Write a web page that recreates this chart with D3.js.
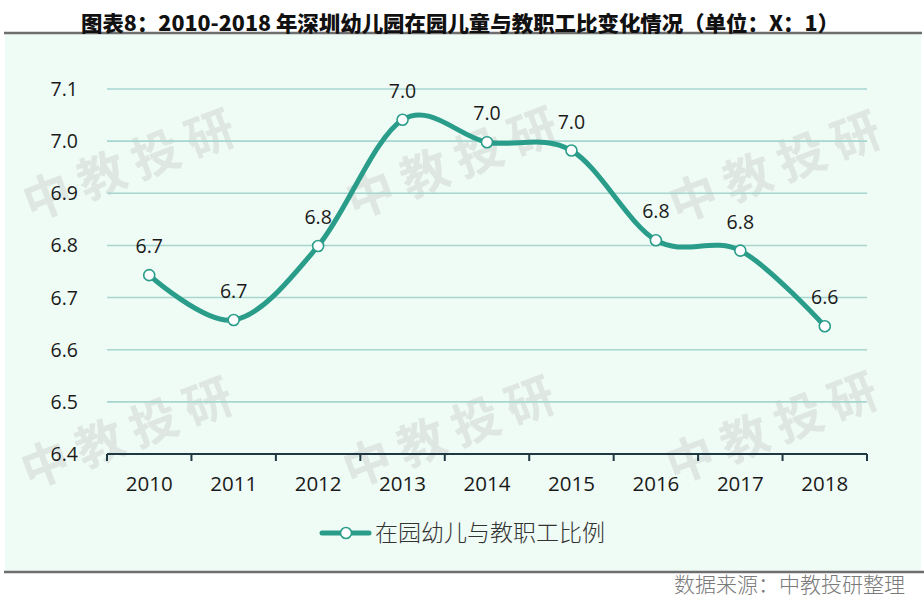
<!DOCTYPE html>
<html><head><meta charset="utf-8">
<script src="https://cdn.jsdelivr.net/npm/d3@7"></script>
<style>body{margin:0;background:#fff;}svg{display:block;}</style>
</head><body>
<script>
const title = "图表8：2010-2018 年深圳幼儿园在园儿童与教职工比变化情况（单位：X：1）";
const categories = ["2010","2011","2012","2013","2014","2015","2016","2017","2018"];
const ratioValues = [6.743, 6.657, 6.799, 7.041, 6.998, 6.982, 6.810, 6.790, 6.645];
const yTicks = [6.4, 6.5, 6.6, 6.7, 6.8, 6.9, 7.0, 7.1];
const seriesName = "在园幼儿与教职工比例";
const source = "数据来源：中教投研整理";
const watermark = "中教投研";

const W = 924, H = 615;
const svg = d3.select("body").append("svg").attr("width", W).attr("height", H);
const FONT = "'Noto Sans CJK SC','Open Sans','DejaVu Sans',sans-serif";
const NUMFONT = "'Open Sans','Noto Sans',sans-serif";
const teal = "#2a9d8a";

// panel
svg.append("rect").attr("x", 5).attr("y", 33).attr("width", 916).attr("height", 539).attr("fill", "#effbf5");
svg.append("line").attr("x1", 4).attr("x2", 922).attr("y1", 33).attr("y2", 33).attr("stroke", "#6e6e6e").attr("stroke-width", 2.5);
svg.append("line").attr("x1", 4).attr("x2", 924).attr("y1", 572).attr("y2", 572).attr("stroke", "#6e6e6e").attr("stroke-width", 2.5);

// title
svg.append("text").attr("x", 460).attr("y", 31).attr("text-anchor", "middle")
  .attr("font-family", FONT).attr("font-weight", 900).attr("font-size", 21)
  .attr("fill", "#111").attr("textLength", 758).attr("lengthAdjust", "spacingAndGlyphs").text(title);

const x = d3.scaleBand().domain(categories).range([107, 867]);
const y = d3.scaleLinear().domain([6.4, 7.1]).range([454, 89]);

// watermarks
const wmCenters = [[132,160],[455,158],[778,162],[130,428],[452,427],[775,423]];
wmCenters.forEach(c => {
  svg.append("text").attr("transform", `translate(${c[0]},${c[1]}) rotate(-21)`)
    .attr("text-anchor", "middle").attr("dominant-baseline", "central")
    .attr("font-family", "'Noto Sans CJK SC',sans-serif").attr("font-weight", "bold")
    .attr("font-size", 48).attr("fill", "#c9ccc8").attr("opacity", 0.42)
    .attr("letter-spacing", 10).text(watermark);
});

// gridlines
svg.append("g").selectAll("line").data(yTicks.slice(1)).join("line")
  .attr("x1", 107).attr("x2", 867).attr("y1", d => y(d)).attr("y2", d => y(d))
  .attr("stroke", "#a6d6cf").attr("stroke-width", 1.6);

// y labels
svg.append("g").selectAll("text").data(yTicks).join("text")
  .attr("x", 78).attr("y", d => y(d)).attr("dy", "0.36em").attr("text-anchor", "end")
  .attr("font-family", NUMFONT).attr("font-size", 19.5).attr("fill", "#1a1a1a")
  .text(d => d3.format(".1f")(d));

// x axis
const xAxisG = svg.append("g");
xAxisG.append("line").attr("x1", 107).attr("x2", 867).attr("y1", 454).attr("y2", 454)
  .attr("stroke", "#1f3842").attr("stroke-width", 2);
const boundaries = categories.map(c => x(c)).concat([x.range()[1]]);
xAxisG.selectAll("line.tick").data(boundaries).join("line").attr("class", "tick")
  .attr("x1", d => d).attr("x2", d => d).attr("y1", 454).attr("y2", 461)
  .attr("stroke", "#1f3842").attr("stroke-width", 2);
xAxisG.selectAll("text").data(categories).join("text")
  .attr("x", d => x(d) + x.bandwidth()/2).attr("y", 490.5).attr("text-anchor", "middle")
  .attr("font-family", NUMFONT).attr("font-size", 20.5).attr("fill", "#1a1a1a").text(d => d);

// line
const pts = categories.map((c, i) => [x(c) + x.bandwidth()/2, y(ratioValues[i])]);
svg.append("path").attr("d", d3.line().curve(d3.curveCardinal.tension(0))(pts))
  .attr("fill", "none").attr("stroke", teal).attr("stroke-width", 5).attr("stroke-linecap", "round");
svg.append("g").selectAll("circle").data(pts).join("circle")
  .attr("cx", d => d[0]).attr("cy", d => d[1]).attr("r", 5.5)
  .attr("fill", "#fff").attr("stroke", teal).attr("stroke-width", 1.6);

// data labels
svg.append("g").selectAll("text").data(categories).join("text")
  .attr("x", (d, i) => pts[i][0]).attr("y", (d, i) => pts[i][1] - 22)
  .attr("text-anchor", "middle").attr("font-family", NUMFONT).attr("font-size", 19.5).attr("fill", "#1a1a1a")
  .text((d, i) => d3.format(".1f")(ratioValues[i]));

// legend
svg.append("line").attr("x1", 322).attr("x2", 369).attr("y1", 533).attr("y2", 533)
  .attr("stroke", teal).attr("stroke-width", 5).attr("stroke-linecap", "round");
svg.append("circle").attr("cx", 346).attr("cy", 533).attr("r", 5.5)
  .attr("fill", "#fff").attr("stroke", teal).attr("stroke-width", 1.6);
svg.append("text").attr("x", 375).attr("y", 533).attr("dy", "0.36em")
  .attr("font-family", FONT).attr("font-weight", 300).attr("font-size", 23).attr("fill", "#333").text(seriesName);

// source
svg.append("text").attr("x", 905).attr("y", 592).attr("text-anchor", "end")
  .attr("font-family", "'Noto Sans CJK SC',sans-serif").attr("font-weight", 300).attr("font-size", 21)
  .attr("fill", "#7a7a7a").text(source);
</script>
</body></html>
